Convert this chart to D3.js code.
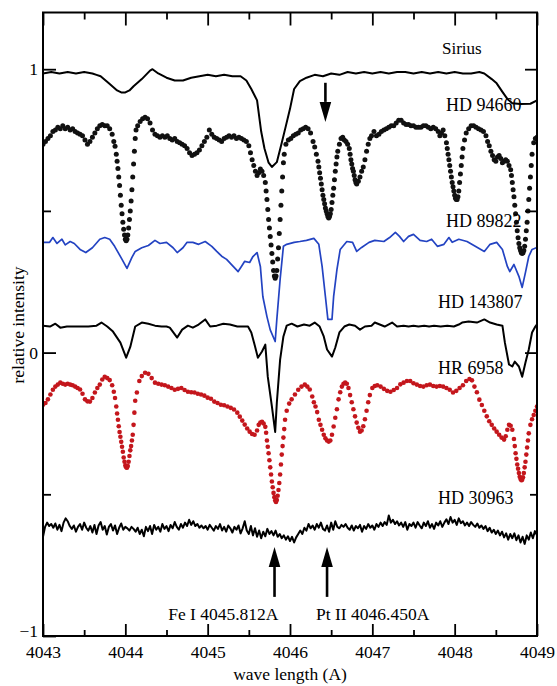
<!DOCTYPE html>
<html><head><meta charset="utf-8">
<script src="https://cdn.jsdelivr.net/npm/d3@7"></script>
<style>body{margin:0;background:#fff}svg{display:block}</style>
</head><body><svg id="c" width="557" height="686"></svg>
<script>
// ---------- DATA ----------
const xMajorTicks = [4043,4044,4045,4046,4047,4048,4049];
const xMinorTicks = [4043.5,4044.5,4045.5,4046.5,4047.5,4048.5];
const yLabelTicks = [1,0,-1];
const yMinorTicks = [0.5,-0.5];
const seriesNames = ["Sirius","HD 94660","HD 89822","HD 143807","HR 6958","HD 30963"];
const lineNames = ["Fe I 4045.812A","Pt II 4046.450A"];
const lineWavelengths = [4045.812,4046.45];
const downArrowWavelength = 4046.43;

const sirius = [[4043.00,0.985],[4043.10,0.99],[4043.20,0.985],[4043.30,0.99],[4043.40,0.985],[4043.50,0.99],[4043.60,0.985],[4043.65,0.98],[4043.70,0.975],[4043.80,0.95],[4043.90,0.925],[4043.95,0.918],[4044.00,0.918],[4044.05,0.925],[4044.10,0.94],[4044.20,0.965],[4044.30,0.995],[4044.33,1.0],[4044.40,0.985],[4044.50,0.97],[4044.60,0.96],[4044.70,0.96],[4044.80,0.97],[4044.90,0.975],[4045.00,0.98],[4045.10,0.975],[4045.20,0.98],[4045.30,0.975],[4045.40,0.975],[4045.47,0.96],[4045.53,0.93],[4045.60,0.89],[4045.65,0.78],[4045.69,0.72],[4045.74,0.67],[4045.78,0.655],[4045.84,0.672],[4045.90,0.74],[4045.95,0.80],[4046.00,0.86],[4046.05,0.93],[4046.12,0.958],[4046.20,0.97],[4046.30,0.98],[4046.40,0.975],[4046.50,0.985],[4046.60,0.98],[4046.70,0.99],[4046.80,0.985],[4046.90,0.99],[4047.00,0.985],[4047.10,0.99],[4047.20,0.985],[4047.30,0.99],[4047.40,0.99],[4047.50,0.985],[4047.60,0.99],[4047.70,0.985],[4047.80,0.99],[4047.90,0.985],[4048.00,0.99],[4048.10,0.985],[4048.20,0.985],[4048.30,0.99],[4048.36,0.985],[4048.45,0.965],[4048.51,0.95],[4048.58,0.92],[4048.64,0.895],[4048.70,0.88],[4048.80,0.877],[4048.92,0.878],[4049.00,0.89]];

const hd94660 = [[4043.00,0.735],[4043.03,0.745],[4043.06,0.755],[4043.09,0.765],[4043.12,0.78],[4043.15,0.785],[4043.18,0.795],[4043.21,0.79],[4043.24,0.80],[4043.27,0.79],[4043.30,0.795],[4043.33,0.785],[4043.36,0.79],[4043.39,0.78],[4043.42,0.775],[4043.45,0.77],[4043.48,0.765],[4043.51,0.75],[4043.54,0.735],[4043.57,0.745],[4043.60,0.76],[4043.63,0.775],[4043.66,0.79],[4043.69,0.80],[4043.72,0.805],[4043.75,0.80],[4043.78,0.80],[4043.81,0.79],[4043.84,0.77],[4043.86,0.745],[4043.875,0.728],[4043.89,0.70],[4043.90,0.675],[4043.91,0.65],[4043.92,0.62],[4043.93,0.59],[4043.94,0.555],[4043.95,0.52],[4043.96,0.49],[4043.97,0.46],[4043.98,0.435],[4043.99,0.415],[4044.00,0.40],[4044.01,0.395],[4044.02,0.40],[4044.03,0.415],[4044.04,0.44],[4044.05,0.47],[4044.06,0.50],[4044.07,0.535],[4044.08,0.575],[4044.09,0.62],[4044.10,0.665],[4044.11,0.71],[4044.12,0.755],[4044.13,0.785],[4044.15,0.80],[4044.18,0.815],[4044.21,0.825],[4044.24,0.83],[4044.27,0.825],[4044.30,0.81],[4044.33,0.785],[4044.36,0.77],[4044.39,0.765],[4044.42,0.76],[4044.45,0.765],[4044.48,0.76],[4044.51,0.765],[4044.54,0.755],[4044.57,0.75],[4044.60,0.755],[4044.63,0.745],[4044.66,0.74],[4044.69,0.735],[4044.72,0.73],[4044.75,0.72],[4044.78,0.705],[4044.81,0.695],[4044.84,0.70],[4044.87,0.705],[4044.90,0.715],[4044.93,0.73],[4044.96,0.745],[4044.99,0.76],[4045.02,0.785],[4045.05,0.77],[4045.08,0.76],[4045.11,0.755],[4045.14,0.75],[4045.17,0.745],[4045.20,0.755],[4045.23,0.76],[4045.26,0.765],[4045.29,0.76],[4045.32,0.765],[4045.35,0.755],[4045.38,0.76],[4045.41,0.755],[4045.44,0.75],[4045.47,0.745],[4045.50,0.73],[4045.52,0.705],[4045.54,0.68],[4045.56,0.66],[4045.58,0.64],[4045.60,0.625],[4045.62,0.635],[4045.64,0.648],[4045.66,0.64],[4045.68,0.625],[4045.70,0.60],[4045.71,0.57],[4045.72,0.54],[4045.73,0.505],[4045.74,0.47],[4045.75,0.44],[4045.76,0.41],[4045.77,0.38],[4045.78,0.35],[4045.79,0.32],[4045.80,0.29],[4045.81,0.27],[4045.82,0.262],[4045.83,0.27],[4045.84,0.29],[4045.85,0.33],[4045.86,0.37],[4045.87,0.42],[4045.88,0.47],[4045.89,0.52],[4045.90,0.57],[4045.91,0.62],[4045.92,0.67],[4045.93,0.70],[4045.95,0.735],[4045.98,0.75],[4046.01,0.755],[4046.04,0.765],[4046.07,0.77],[4046.10,0.775],[4046.13,0.785],[4046.16,0.79],[4046.19,0.795],[4046.22,0.79],[4046.25,0.775],[4046.28,0.745],[4046.30,0.725],[4046.32,0.70],[4046.34,0.675],[4046.35,0.655],[4046.36,0.635],[4046.37,0.615],[4046.38,0.595],[4046.39,0.575],[4046.40,0.555],[4046.41,0.54],[4046.42,0.525],[4046.43,0.51],[4046.44,0.50],[4046.45,0.49],[4046.46,0.48],[4046.47,0.475],[4046.48,0.48],[4046.49,0.49],[4046.50,0.505],[4046.51,0.53],[4046.52,0.555],[4046.53,0.58],[4046.54,0.61],[4046.55,0.64],[4046.56,0.665],[4046.57,0.69],[4046.58,0.71],[4046.60,0.735],[4046.62,0.755],[4046.64,0.76],[4046.66,0.75],[4046.68,0.745],[4046.70,0.735],[4046.72,0.72],[4046.73,0.70],[4046.74,0.68],[4046.75,0.665],[4046.76,0.65],[4046.77,0.64],[4046.78,0.625],[4046.79,0.61],[4046.80,0.60],[4046.81,0.595],[4046.83,0.605],[4046.85,0.62],[4046.87,0.64],[4046.89,0.655],[4046.91,0.68],[4046.93,0.71],[4046.95,0.735],[4046.97,0.755],[4046.99,0.765],[4047.02,0.78],[4047.05,0.765],[4047.08,0.77],[4047.11,0.78],[4047.14,0.785],[4047.17,0.79],[4047.20,0.795],[4047.23,0.80],[4047.26,0.80],[4047.29,0.81],[4047.32,0.82],[4047.35,0.82],[4047.38,0.81],[4047.41,0.805],[4047.44,0.805],[4047.47,0.80],[4047.50,0.80],[4047.53,0.795],[4047.56,0.795],[4047.59,0.795],[4047.62,0.80],[4047.65,0.80],[4047.68,0.795],[4047.71,0.79],[4047.74,0.795],[4047.77,0.79],[4047.80,0.78],[4047.82,0.765],[4047.84,0.775],[4047.86,0.785],[4047.88,0.765],[4047.90,0.74],[4047.91,0.72],[4047.92,0.70],[4047.93,0.68],[4047.94,0.66],[4047.95,0.64],[4047.96,0.62],[4047.97,0.60],[4047.98,0.585],[4047.99,0.57],[4048.00,0.555],[4048.01,0.545],[4048.02,0.54],[4048.03,0.54],[4048.04,0.55],[4048.05,0.57],[4048.06,0.60],[4048.07,0.63],[4048.08,0.66],[4048.09,0.69],[4048.10,0.72],[4048.12,0.75],[4048.14,0.775],[4048.17,0.79],[4048.20,0.80],[4048.23,0.80],[4048.26,0.795],[4048.29,0.79],[4048.32,0.785],[4048.35,0.78],[4048.38,0.765],[4048.40,0.745],[4048.42,0.73],[4048.44,0.71],[4048.46,0.695],[4048.48,0.68],[4048.50,0.675],[4048.52,0.69],[4048.54,0.695],[4048.56,0.685],[4048.58,0.67],[4048.60,0.675],[4048.62,0.68],[4048.64,0.675],[4048.66,0.66],[4048.68,0.645],[4048.69,0.625],[4048.70,0.60],[4048.71,0.575],[4048.72,0.55],[4048.73,0.52],[4048.74,0.49],[4048.75,0.46],[4048.76,0.43],[4048.77,0.405],[4048.78,0.385],[4048.79,0.37],[4048.80,0.36],[4048.81,0.352],[4048.82,0.35],[4048.83,0.352],[4048.84,0.36],[4048.85,0.375],[4048.86,0.40],[4048.87,0.43],[4048.88,0.46],[4048.89,0.50],[4048.90,0.54],[4048.91,0.58],[4048.92,0.62],[4048.93,0.66],[4048.94,0.70],[4048.96,0.74],[4048.98,0.755],[4049.00,0.76]];

const hd89822 = [[4043.00,0.389],[4043.08,0.389],[4043.12,0.406],[4043.17,0.385],[4043.23,0.40],[4043.27,0.38],[4043.33,0.392],[4043.38,0.385],[4043.45,0.364],[4043.52,0.353],[4043.60,0.37],[4043.69,0.40],[4043.75,0.406],[4043.81,0.40],[4043.87,0.375],[4043.96,0.329],[4044.02,0.297],[4044.08,0.336],[4044.12,0.357],[4044.20,0.37],[4044.28,0.378],[4044.36,0.396],[4044.42,0.385],[4044.50,0.389],[4044.58,0.37],[4044.63,0.353],[4044.70,0.37],[4044.75,0.389],[4044.82,0.389],[4044.89,0.382],[4044.97,0.392],[4045.05,0.375],[4045.11,0.357],[4045.17,0.34],[4045.23,0.329],[4045.31,0.304],[4045.37,0.286],[4045.41,0.304],[4045.45,0.322],[4045.51,0.318],[4045.55,0.339],[4045.60,0.353],[4045.64,0.304],[4045.67,0.198],[4045.72,0.127],[4045.76,0.08],[4045.82,0.039],[4045.84,0.117],[4045.88,0.258],[4045.92,0.375],[4045.96,0.382],[4046.05,0.389],[4046.12,0.392],[4046.20,0.396],[4046.29,0.403],[4046.35,0.382],[4046.39,0.304],[4046.43,0.198],[4046.46,0.117],[4046.51,0.117],[4046.53,0.198],[4046.57,0.293],[4046.61,0.364],[4046.69,0.392],[4046.76,0.389],[4046.81,0.357],[4046.87,0.371],[4046.96,0.389],[4047.03,0.396],[4047.14,0.392],[4047.21,0.406],[4047.28,0.424],[4047.33,0.41],[4047.38,0.392],[4047.44,0.41],[4047.50,0.417],[4047.58,0.396],[4047.66,0.392],[4047.72,0.40],[4047.79,0.375],[4047.87,0.382],[4047.93,0.406],[4047.97,0.389],[4048.05,0.40],[4048.15,0.392],[4048.25,0.375],[4048.36,0.357],[4048.43,0.382],[4048.51,0.389],[4048.58,0.364],[4048.64,0.304],[4048.67,0.286],[4048.72,0.311],[4048.78,0.269],[4048.82,0.23],[4048.86,0.283],[4048.90,0.339],[4048.94,0.364],[4049.00,0.371]];

const hd143807 = [[4043.00,0.095],[4043.085,0.092],[4043.15,0.102],[4043.21,0.088],[4043.29,0.092],[4043.37,0.092],[4043.45,0.092],[4043.55,0.092],[4043.65,0.095],[4043.71,0.106],[4043.78,0.092],[4043.85,0.074],[4043.94,0.035],[4044.01,-0.018],[4044.06,0.02],[4044.12,0.092],[4044.20,0.106],[4044.28,0.102],[4044.36,0.095],[4044.44,0.092],[4044.50,0.092],[4044.54,0.088],[4044.63,0.053],[4044.69,0.081],[4044.76,0.095],[4044.82,0.088],[4044.89,0.099],[4044.97,0.117],[4045.03,0.092],[4045.11,0.095],[4045.19,0.102],[4045.27,0.099],[4045.36,0.092],[4045.43,0.092],[4045.49,0.092],[4045.53,0.071],[4045.57,0.028],[4045.61,-0.018],[4045.66,0.004],[4045.70,0.028],[4045.73,-0.085],[4045.78,-0.19],[4045.82,-0.28],[4045.84,-0.177],[4045.88,-0.025],[4045.92,0.057],[4045.96,0.095],[4046.02,0.102],[4046.09,0.092],[4046.17,0.099],[4046.24,0.095],[4046.30,0.106],[4046.36,0.092],[4046.41,0.057],[4046.45,0.011],[4046.51,-0.014],[4046.55,0.018],[4046.60,0.071],[4046.66,0.092],[4046.72,0.099],[4046.79,0.095],[4046.85,0.081],[4046.91,0.092],[4046.99,0.095],[4047.03,0.106],[4047.09,0.099],[4047.15,0.092],[4047.24,0.106],[4047.30,0.092],[4047.38,0.095],[4047.44,0.092],[4047.50,0.095],[4047.56,0.092],[4047.63,0.095],[4047.69,0.092],[4047.75,0.095],[4047.83,0.092],[4047.91,0.095],[4047.99,0.092],[4048.05,0.099],[4048.09,0.106],[4048.17,0.11],[4048.27,0.106],[4048.36,0.117],[4048.43,0.106],[4048.51,0.099],[4048.58,0.095],[4048.61,0.035],[4048.66,-0.042],[4048.70,-0.049],[4048.73,-0.032],[4048.78,-0.049],[4048.82,-0.085],[4048.86,-0.035],[4048.90,0.011],[4048.94,0.071],[4048.98,0.092],[4049.00,0.10]];

const hr6958 = [[4043.00,-0.184],[4043.03,-0.178],[4043.06,-0.165],[4043.09,-0.148],[4043.12,-0.131],[4043.15,-0.12],[4043.18,-0.113],[4043.21,-0.106],[4043.24,-0.11],[4043.27,-0.113],[4043.30,-0.11],[4043.33,-0.113],[4043.36,-0.115],[4043.39,-0.12],[4043.42,-0.125],[4043.45,-0.13],[4043.48,-0.145],[4043.51,-0.165],[4043.54,-0.172],[4043.57,-0.173],[4043.60,-0.16],[4043.63,-0.141],[4043.66,-0.125],[4043.69,-0.113],[4043.72,-0.095],[4043.75,-0.085],[4043.78,-0.09],[4043.81,-0.097],[4043.84,-0.115],[4043.86,-0.138],[4043.875,-0.16],[4043.89,-0.19],[4043.90,-0.215],[4043.91,-0.237],[4043.92,-0.26],[4043.93,-0.28],[4043.94,-0.297],[4043.95,-0.315],[4043.96,-0.332],[4043.97,-0.35],[4043.98,-0.37],[4043.99,-0.385],[4044.00,-0.398],[4044.01,-0.405],[4044.02,-0.406],[4044.03,-0.40],[4044.04,-0.385],[4044.05,-0.365],[4044.06,-0.345],[4044.07,-0.33],[4044.08,-0.31],[4044.09,-0.29],[4044.10,-0.255],[4044.11,-0.212],[4044.12,-0.17],[4044.14,-0.141],[4044.17,-0.10],[4044.20,-0.083],[4044.24,-0.071],[4044.28,-0.075],[4044.32,-0.09],[4044.36,-0.106],[4044.40,-0.11],[4044.44,-0.113],[4044.48,-0.115],[4044.52,-0.12],[4044.56,-0.125],[4044.60,-0.131],[4044.64,-0.128],[4044.68,-0.125],[4044.72,-0.132],[4044.76,-0.138],[4044.80,-0.14],[4044.84,-0.141],[4044.88,-0.145],[4044.92,-0.148],[4044.96,-0.152],[4045.00,-0.159],[4045.04,-0.163],[4045.08,-0.173],[4045.12,-0.178],[4045.16,-0.184],[4045.20,-0.186],[4045.24,-0.19],[4045.28,-0.195],[4045.32,-0.201],[4045.36,-0.212],[4045.39,-0.226],[4045.42,-0.24],[4045.45,-0.254],[4045.48,-0.268],[4045.51,-0.279],[4045.54,-0.287],[4045.57,-0.29],[4045.60,-0.275],[4045.62,-0.255],[4045.64,-0.247],[4045.66,-0.244],[4045.68,-0.25],[4045.70,-0.262],[4045.71,-0.283],[4045.72,-0.31],[4045.73,-0.332],[4045.74,-0.355],[4045.75,-0.38],[4045.76,-0.405],[4045.77,-0.43],[4045.78,-0.455],[4045.79,-0.475],[4045.80,-0.495],[4045.81,-0.51],[4045.82,-0.522],[4045.83,-0.527],[4045.84,-0.52],[4045.85,-0.505],[4045.86,-0.485],[4045.87,-0.46],[4045.88,-0.43],[4045.89,-0.395],[4045.90,-0.36],[4045.91,-0.33],[4045.92,-0.30],[4045.93,-0.27],[4045.94,-0.237],[4045.96,-0.205],[4045.99,-0.18],[4046.02,-0.165],[4046.06,-0.148],[4046.10,-0.131],[4046.14,-0.12],[4046.18,-0.113],[4046.21,-0.12],[4046.24,-0.13],[4046.27,-0.155],[4046.29,-0.175],[4046.31,-0.19],[4046.33,-0.21],[4046.35,-0.237],[4046.37,-0.255],[4046.39,-0.272],[4046.41,-0.29],[4046.43,-0.302],[4046.45,-0.31],[4046.47,-0.314],[4046.49,-0.31],[4046.51,-0.29],[4046.53,-0.261],[4046.55,-0.23],[4046.57,-0.20],[4046.59,-0.165],[4046.61,-0.14],[4046.63,-0.12],[4046.65,-0.11],[4046.67,-0.106],[4046.69,-0.11],[4046.71,-0.125],[4046.73,-0.15],[4046.75,-0.175],[4046.77,-0.20],[4046.79,-0.225],[4046.81,-0.247],[4046.83,-0.265],[4046.85,-0.279],[4046.87,-0.275],[4046.89,-0.26],[4046.91,-0.235],[4046.93,-0.205],[4046.95,-0.175],[4046.97,-0.15],[4047.00,-0.125],[4047.03,-0.118],[4047.06,-0.115],[4047.10,-0.12],[4047.14,-0.128],[4047.18,-0.135],[4047.22,-0.138],[4047.26,-0.132],[4047.30,-0.125],[4047.34,-0.112],[4047.38,-0.106],[4047.42,-0.10],[4047.46,-0.10],[4047.50,-0.108],[4047.54,-0.113],[4047.58,-0.118],[4047.62,-0.12],[4047.66,-0.115],[4047.70,-0.113],[4047.74,-0.118],[4047.78,-0.12],[4047.82,-0.118],[4047.86,-0.12],[4047.90,-0.125],[4047.94,-0.131],[4047.98,-0.141],[4048.02,-0.135],[4048.06,-0.125],[4048.10,-0.115],[4048.14,-0.10],[4048.18,-0.093],[4048.21,-0.098],[4048.24,-0.12],[4048.27,-0.14],[4048.30,-0.166],[4048.33,-0.185],[4048.36,-0.205],[4048.39,-0.225],[4048.42,-0.242],[4048.45,-0.255],[4048.48,-0.268],[4048.51,-0.279],[4048.54,-0.29],[4048.57,-0.30],[4048.60,-0.307],[4048.62,-0.295],[4048.64,-0.272],[4048.66,-0.255],[4048.68,-0.258],[4048.70,-0.272],[4048.72,-0.305],[4048.73,-0.33],[4048.74,-0.355],[4048.75,-0.375],[4048.76,-0.395],[4048.77,-0.41],[4048.78,-0.425],[4048.79,-0.438],[4048.80,-0.446],[4048.81,-0.45],[4048.82,-0.449],[4048.83,-0.44],[4048.84,-0.425],[4048.85,-0.405],[4048.86,-0.385],[4048.87,-0.36],[4048.88,-0.335],[4048.89,-0.31],[4048.90,-0.285],[4048.92,-0.255],[4048.94,-0.235],[4048.96,-0.22],[4048.98,-0.205],[4049.00,-0.19]];

// HD 30963: sampled every 0.025 A from 4043.000
const hd30963Start = 4043.0, hd30963Step = 0.025;
const hd30963 = [-0.650,-0.615,-0.600,-0.612,-0.605,-0.618,-0.603,-0.625,-0.608,-0.630,-0.600,-0.585,-0.595,-0.612,-0.622,-0.610,-0.632,-0.615,-0.605,-0.625,-0.600,-0.618,-0.628,-0.612,-0.635,-0.608,-0.640,-0.610,-0.598,-0.625,-0.612,-0.642,-0.615,-0.605,-0.628,-0.610,-0.640,-0.618,-0.603,-0.625,-0.615,-0.620,-0.628,-0.615,-0.622,-0.632,-0.618,-0.640,-0.625,-0.648,-0.615,-0.630,-0.612,-0.640,-0.608,-0.625,-0.615,-0.632,-0.605,-0.622,-0.612,-0.630,-0.608,-0.620,-0.598,-0.615,-0.625,-0.605,-0.618,-0.600,-0.612,-0.590,-0.608,-0.595,-0.612,-0.605,-0.618,-0.610,-0.620,-0.612,-0.625,-0.608,-0.618,-0.628,-0.612,-0.622,-0.605,-0.628,-0.615,-0.632,-0.610,-0.620,-0.635,-0.615,-0.625,-0.610,-0.638,-0.620,-0.595,-0.628,-0.640,-0.612,-0.645,-0.620,-0.650,-0.628,-0.655,-0.632,-0.648,-0.622,-0.640,-0.630,-0.645,-0.628,-0.650,-0.640,-0.655,-0.645,-0.660,-0.648,-0.665,-0.650,-0.670,-0.652,-0.640,-0.628,-0.640,-0.618,-0.628,-0.605,-0.620,-0.610,-0.625,-0.605,-0.618,-0.600,-0.622,-0.628,-0.610,-0.632,-0.600,-0.625,-0.595,-0.615,-0.620,-0.608,-0.615,-0.605,-0.618,-0.625,-0.610,-0.628,-0.612,-0.620,-0.608,-0.632,-0.612,-0.622,-0.605,-0.618,-0.610,-0.625,-0.605,-0.615,-0.600,-0.612,-0.598,-0.608,-0.575,-0.600,-0.590,-0.605,-0.595,-0.610,-0.600,-0.615,-0.598,-0.625,-0.605,-0.612,-0.600,-0.618,-0.598,-0.610,-0.620,-0.600,-0.612,-0.595,-0.618,-0.605,-0.622,-0.600,-0.610,-0.595,-0.615,-0.600,-0.588,-0.605,-0.580,-0.600,-0.590,-0.608,-0.585,-0.602,-0.595,-0.610,-0.600,-0.612,-0.598,-0.608,-0.615,-0.603,-0.618,-0.610,-0.622,-0.612,-0.630,-0.618,-0.635,-0.625,-0.640,-0.628,-0.645,-0.632,-0.652,-0.638,-0.660,-0.640,-0.655,-0.638,-0.662,-0.645,-0.670,-0.650,-0.675,-0.645,-0.660,-0.635,-0.655,-0.630,-0.645];

// ---------- CHART ----------
const svg = d3.select('#c');
const FONT = '"Liberation Serif","Times New Roman",serif';
const x = d3.scaleLinear().domain([4043, 4049]).range([43, 537]);
const y = d3.scaleLinear().domain([-1, 1.2]).range([636, 12.5]);

svg.append('defs').append('clipPath').attr('id','plot')
  .append('rect').attr('x',43).attr('y',12.5).attr('width',494).attr('height',623.5);
const plot = svg.append('g').attr('clip-path','url(#plot)');

const line = d3.line().x(d => x(d[0])).y(d => y(d[1]));
function drawLine(data, color, w){
  plot.append('path').datum(data).attr('d', line)
    .attr('fill','none').attr('stroke',color).attr('stroke-width',w)
    .attr('stroke-linejoin','round');
}
function drawDots(data, color, r){
  plot.append('g').selectAll('circle').data(data).join('circle')
    .attr('cx', d => x(d[0])).attr('cy', d => y(d[1])).attr('r', r).attr('fill', color);
}

drawLine(sirius, '#000', 2);
drawDots(hd94660, '#111', 2.5);
drawLine(hd89822, '#2343c2', 1.7);
drawLine(hd143807, '#000', 2);
drawDots(hr6958, '#c4161c', 2.3);
const hd30963Pts = hd30963.map((v, i) => [hd30963Start + i * hd30963Step, v]);
drawLine(hd30963Pts, '#000', 2);

// frame
svg.append('rect').attr('x',43).attr('y',12.5).attr('width',494).attr('height',623.5)
  .attr('fill','none').attr('stroke','#000').attr('stroke-width',2);

function styleAxis(g){
  g.select('.domain').remove();
  g.selectAll('line').attr('stroke','#000').attr('stroke-width',1.8);
  g.selectAll('text').attr('font-family',FONT).attr('font-size',17.5).attr('fill','#000');
}
// bottom
svg.append('g').attr('transform','translate(0,636)')
  .call(d3.axisBottom(x).tickValues(xMajorTicks).tickSize(-12).tickPadding(10).tickFormat(d3.format('d')))
  .call(styleAxis);
svg.append('g').attr('transform','translate(0,636)')
  .call(d3.axisBottom(x).tickValues(xMinorTicks).tickSize(-6).tickFormat(''))
  .call(styleAxis);
// top
svg.append('g').attr('transform','translate(0,12.5)')
  .call(d3.axisTop(x).tickValues(xMajorTicks).tickSize(-13).tickFormat(''))
  .call(styleAxis);
svg.append('g').attr('transform','translate(0,12.5)')
  .call(d3.axisTop(x).tickValues(xMinorTicks).tickSize(-7).tickFormat(''))
  .call(styleAxis);
// left
svg.append('g').attr('transform','translate(43,0)')
  .call(d3.axisLeft(y).tickValues(yLabelTicks).tickSize(-13).tickPadding(5).tickFormat(d3.format('d')))
  .call(styleAxis)
  .call(g => g.selectAll('text').attr('dy', d => d === -1 ? '0.05em' : '0.32em'));
svg.append('g').attr('transform','translate(43,0)')
  .call(d3.axisLeft(y).tickValues(yMinorTicks).tickSize(-8).tickFormat(''))
  .call(styleAxis);
// right
svg.append('g').attr('transform','translate(537,0)')
  .call(d3.axisRight(y).tickValues([1,0.5,0]).tickSize(-12).tickFormat(''))
  .call(styleAxis);
svg.append('g').attr('transform','translate(537,0)')
  .call(d3.axisRight(y).tickValues([-0.5]).tickSize(-7).tickFormat(''))
  .call(styleAxis);

// axis titles
svg.append('text').attr('x',290).attr('y',680).attr('text-anchor','middle')
  .attr('font-family',FONT).attr('font-size',17.5).text('wave length (A)');
svg.append('text').attr('transform','translate(24,325) rotate(-90)').attr('text-anchor','middle')
  .attr('font-family',FONT).attr('font-size',17.5).text('relative intensity');

// series labels
const labelPos = [[442,54,17],[446,111,18],[446,227,18],[438,308,18],[438,374,18],[438,504,18]];
seriesNames.forEach((n, i) => {
  svg.append('text').attr('x',labelPos[i][0]).attr('y',labelPos[i][1])
    .attr('font-family',FONT).attr('font-size',labelPos[i][2]).attr('fill','#000').text(n);
});

// arrows
function arrow(wl, vTail, vTip){
  const ax = x(wl), yt = y(vTail), yp = y(vTip);
  const dir = yp > yt ? 1 : -1;
  const headLen = 20, headW = 5.8;
  const yb = yp - dir * headLen;
  svg.append('line').attr('x1',ax).attr('x2',ax).attr('y1',yt).attr('y2',yb)
    .attr('stroke','#000').attr('stroke-width',2.6);
  svg.append('path').attr('d',`M${ax},${yp}L${ax-headW},${yb}L${ax+headW},${yb}Z`).attr('fill','#000');
}
arrow(downArrowWavelength, 0.952, 0.814);
lineWavelengths.forEach(wl => arrow(wl, -0.862, -0.686));

// line labels
svg.append('text').attr('x', x(lineWavelengths[0]) + 4).attr('y',620).attr('text-anchor','end')
  .attr('font-family',FONT).attr('font-size',17.5).text(lineNames[0]);
svg.append('text').attr('x', x(lineWavelengths[1]) - 11).attr('y',620).attr('text-anchor','start')
  .attr('font-family',FONT).attr('font-size',17.5).text(lineNames[1]);
</script></body></html>
